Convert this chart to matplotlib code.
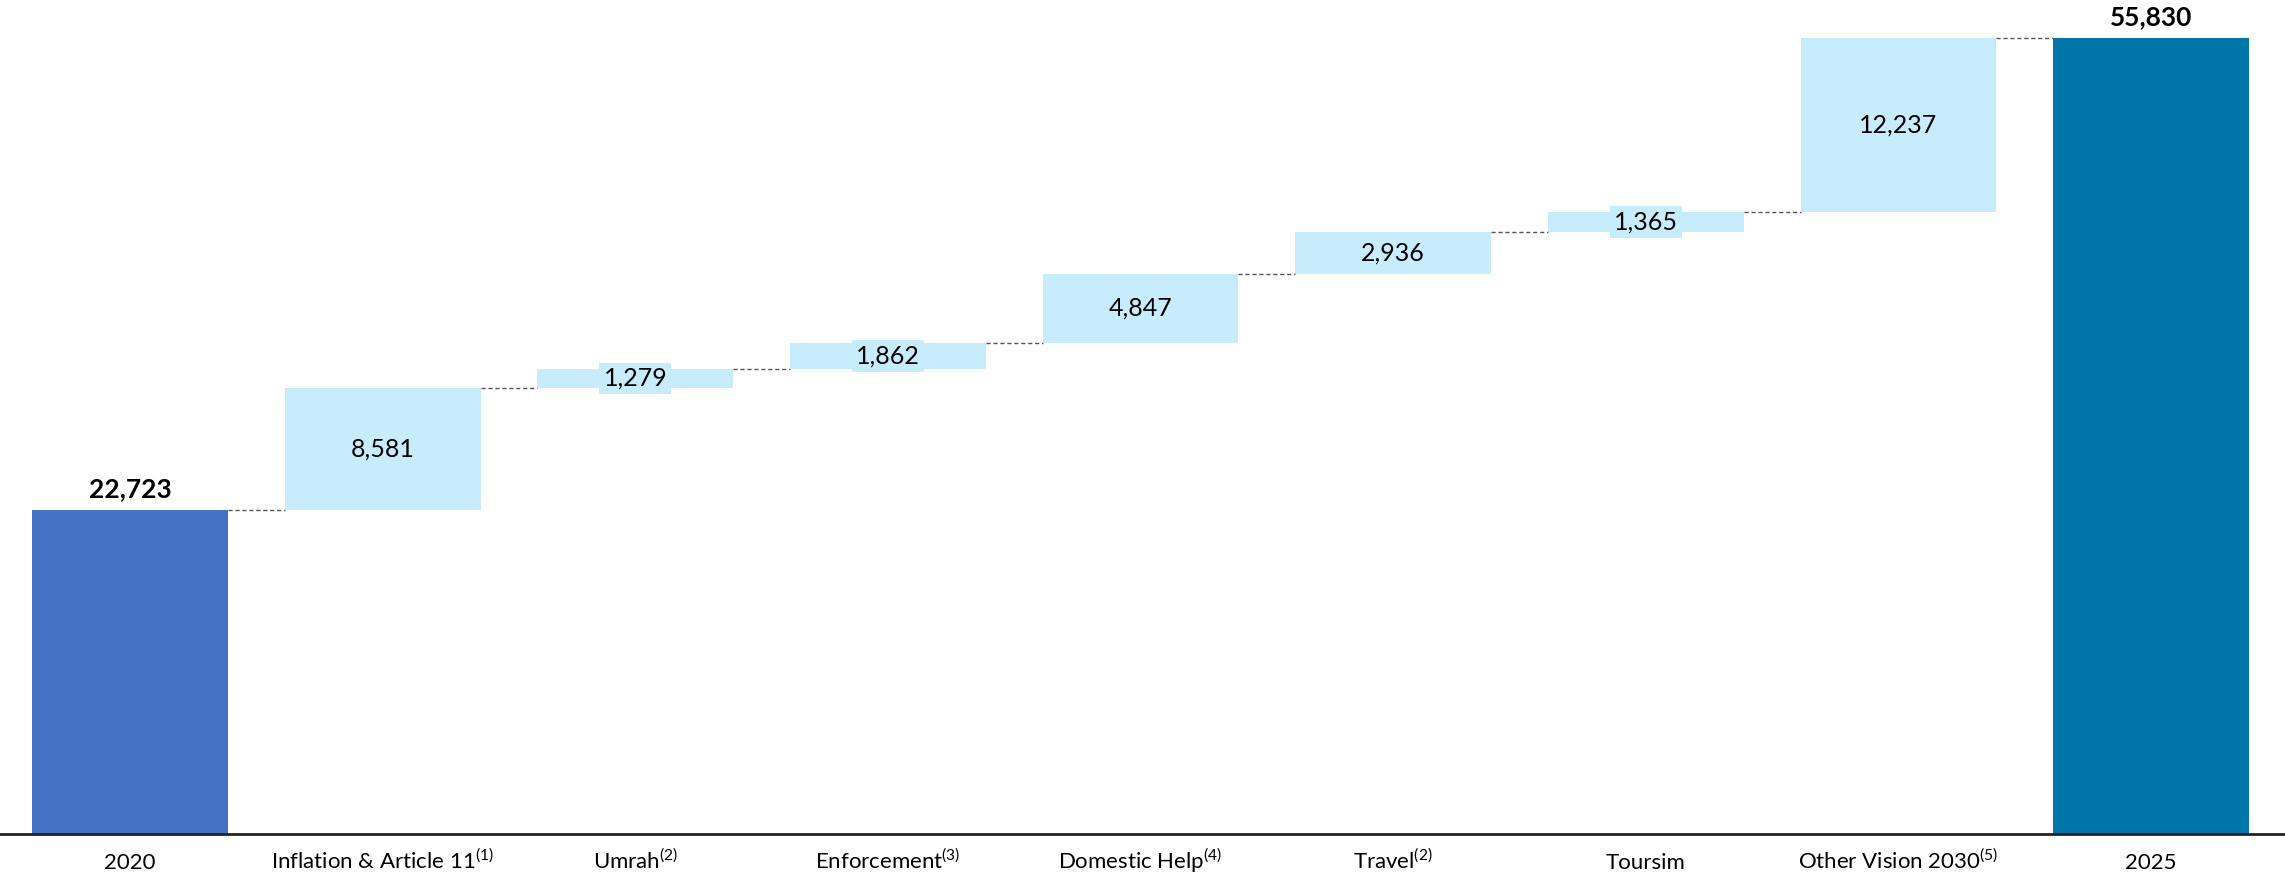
import matplotlib
matplotlib.use("Agg")
import matplotlib.pyplot as plt

plt.rcParams['font.family'] = ['Lato', 'DejaVu Sans']
plt.rcParams['mathtext.fontset'] = 'custom'
plt.rcParams['mathtext.rm'] = 'Lato'

# data
categories = ["2020", "Inflation & Article 11$^{\\mathrm{(1)}}$", "Umrah$^{\\mathrm{(2)}}$",
              "Enforcement$^{\\mathrm{(3)}}$", "Domestic Help$^{\\mathrm{(4)}}$", "Travel$^{\\mathrm{(2)}}$",
              "Toursim", "Other Vision 2030$^{\\mathrm{(5)}}$", "2025"]
start_value = 22723
increments = [8581, 1279, 1862, 4847, 2936, 1365, 12237]
end_value = 55830

c_start = "#4472C4"
c_end = "#0075A8"
c_inc = "#C7EDFC"
w = 0.775

fig = plt.figure(figsize=(22.85, 8.74), dpi=100)
ax = fig.add_axes([0, 40 / 874, 1, 834 / 874])

# start bar
ax.bar(0, start_value, width=w, color=c_start)
ax.text(0, start_value + 600, f"{start_value:,}", ha="center", va="bottom",
        fontsize=19, fontweight="bold")

level = start_value
for i, inc in enumerate(increments, start=1):
    ax.plot([i - 1 + w / 2, i - w / 2], [level, level], color="#555555",
            linestyle=(0, (3, 2)), linewidth=1)
    ax.bar(i, inc, bottom=level, width=w, color=c_inc)
    ax.text(i, level + inc / 2, f"{inc:,}", ha="center", va="center", fontsize=18,
            bbox=dict(facecolor=c_inc, edgecolor="none", pad=3))
    level += inc

n = len(categories) - 1
ax.plot([n - 1 + w / 2, n - w / 2], [level, level], color="#555555",
        linestyle=(0, (3, 2)), linewidth=1)
ax.bar(n, end_value, width=w, color=c_end)
ax.text(n, end_value + 600, f"{end_value:,}", ha="center", va="bottom",
        fontsize=19, fontweight="bold")

ax.set_xlim(-0.515, 8.53)
ax.set_ylim(0, 58490)
ax.set_xticks(range(len(categories)))
ax.set_xticklabels(categories, fontsize=16, va="baseline")
ax.tick_params(axis="x", length=0, pad=25)
ax.set_yticks([])
for s in ["top", "right", "left"]:
    ax.spines[s].set_visible(False)
ax.spines["bottom"].set_linewidth(2)
ax.spines["bottom"].set_color("#222222")

fig.savefig("out.png", dpi=100)
